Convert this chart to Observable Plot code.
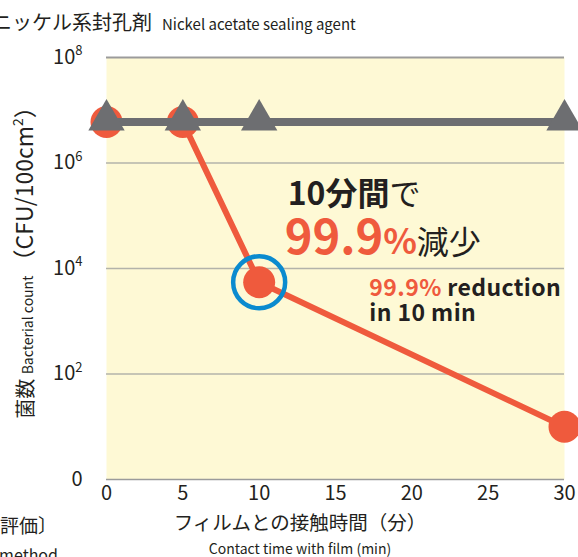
<!DOCTYPE html>
<html>
<head>
<meta charset="utf-8">
<script src="https://cdn.jsdelivr.net/npm/d3@7"></script>
<script src="https://cdn.jsdelivr.net/npm/@observablehq/plot@0.6"></script>
<style>
  html, body { margin: 0; padding: 0; background: #fff; overflow: hidden; }
  svg { display: block; }
</style>
</head>
<body>
<div id="chart"></div>
<script>
// ---- data ----
const times = [0, 5, 10, 30];
const nickelCounts = [6e6, 6e6, 5.5e3, 10];
const controlCounts = [6e6, 6e6, 6e6, 6e6];
const xTicks = [0, 5, 10, 15, 20, 25, 30];
const yTicks = [1, 1e2, 1e4, 1e6, 1e8];
const yTickExp = ["", "2", "4", "6", "8"];
const highlightTime = [10];

const nickel = times.map((t, i) => ({t, v: nickelCounts[i]}));
const control = times.map((t, i) => ({t, v: controlCounts[i]}));
const highlight = highlightTime.map(t => nickel.find(d => d.t === t));

const RED = "#ef5a3d", GRAY = "#6d6e71", BLUE = "#0b8bcf", INK = "#231f20";
const FONT = "'Noto Sans CJK JP', 'Noto Sans', sans-serif";

const plot = Plot.plot({
  width: 578,
  height: 557,
  marginLeft: 106,
  marginRight: 14,
  marginTop: 57,
  marginBottom: 78,
  style: {fontFamily: FONT, background: "transparent"},
  x: {domain: [0, 30]},
  y: {type: "log", domain: [1, 1e8]},
  marks: [
    Plot.frame({fill: "#fef9d5", stroke: null}),
    Plot.gridY(yTicks.slice(1, 4), {stroke: "#b3b3aa", strokeOpacity: 1, strokeWidth: 1.6}),
    Plot.ruleY([1e8], {stroke: "#9b9b9b", strokeWidth: 2.2}),
    Plot.ruleY([1], {stroke: "#9b9b9b", strokeWidth: 1.6}),
    Plot.axisX(xTicks, {tickSize: 0, tickPadding: 6, fontSize: 20, fill: INK, label: null}),
    Plot.axisY(yTicks, {tickSize: 0, tickPadding: 24, fontSize: 20, fill: INK, label: null,
      tickFormat: d => (d === 1 ? "0" : "10")}),
    Plot.line(nickel, {x: "t", y: "v", stroke: RED, strokeWidth: 6}),
    Plot.dot(nickel, {x: "t", y: "v", r: 16, fill: RED}),
    Plot.line(control, {x: "t", y: "v", stroke: GRAY, strokeWidth: 8}),
    Plot.dot(control, {x: "t", y: "v", r: 13.5, symbol: "triangle", fill: GRAY, dy: -2}),
    Plot.dot(highlight, {x: "t", y: "v", r: 26, fill: "none", stroke: BLUE, strokeWidth: 4.5})
  ]
});

document.getElementById("chart").appendChild(plot);
const svg = d3.select(plot);

// superscript exponents on y tick labels (labels come in yTicks order)
const yLabelNodes = svg.selectAll('[aria-label="y-axis tick label"] text').nodes();
yLabelNodes.forEach((node, i) => {
  const exp = yTickExp[i];
  if (exp) {
    d3.select(node).append("tspan").attr("font-size", 13).attr("dy", "-0.65em").text(exp);
  }
});

const xs = plot.scale("x"), ys = plot.scale("y");

function addText(x, y, anchor) {
  return svg.append("text").attr("x", x).attr("y", y)
    .attr("text-anchor", anchor).attr("fill", INK).attr("font-family", FONT);
}

// title
const title = addText(-8, 30, "start");
title.append("tspan").attr("font-size", 20).text("ニッケル系封孔剤");
title.append("tspan").attr("font-size", 15).attr("dx", 10).text("Nickel acetate sealing agent");

// y axis title (rotated)
const yl = svg.append("text")
  .attr("transform", `translate(33, 257) rotate(-90)`)
  .attr("text-anchor", "middle").attr("fill", INK).attr("font-family", FONT);
yl.append("tspan").attr("font-size", 20).text("菌数 ");
yl.append("tspan").attr("font-size", 14).text("Bacterial count ");
yl.append("tspan").attr("font-size", 23).text("（CFU/100cm");
yl.append("tspan").attr("font-size", 14).attr("dy", "-0.7em").text("2");
yl.append("tspan").attr("font-size", 23).attr("dy", "0.45em").text("）");

// x axis titles
addText(300, 530, "middle").attr("font-size", 19.5).text("フィルムとの接触時間（分）");
addText(300, 554, "middle").attr("font-size", 14).text("Contact time with film (min)");

// bottom-left (cropped) method note
addText(57, 533, "end").attr("font-size", 19).text("〔フィルム密着法による評価〕");
addText(58, 561, "end").attr("font-size", 16).text("Film adhesion method");

// annotations
const ax = xs.apply(11.9);
const a1 = addText(ax, ys.apply(10 ** 5.19), "start");
a1.append("tspan").attr("font-size", 32).attr("font-weight", 700).text("10分間");
a1.append("tspan").attr("font-size", 31).text("で");

const a2 = addText(ax - 3, ys.apply(10 ** 4.27), "start");
a2.append("tspan").attr("font-size", 47).attr("font-weight", 700).attr("fill", RED).text("99.9");
a2.append("tspan").attr("font-size", 35).attr("font-weight", 700).attr("fill", RED).text("%");
a2.append("tspan").attr("font-size", 32).attr("fill", INK).text("減少");

const bx = xs.apply(17.25);
const b1 = addText(bx, ys.apply(10 ** 3.47), "start").attr("font-size", 23).attr("font-weight", 700)
  .attr("letter-spacing", 0.4);
b1.append("tspan").attr("fill", RED).text("99.9% ");
b1.append("tspan").attr("fill", INK).text("reduction");
addText(bx, ys.apply(10 ** 2.99), "start").attr("font-size", 23).attr("font-weight", 700)
  .attr("letter-spacing", 0.4).text("in 10 min");
</script>
</body>
</html>
